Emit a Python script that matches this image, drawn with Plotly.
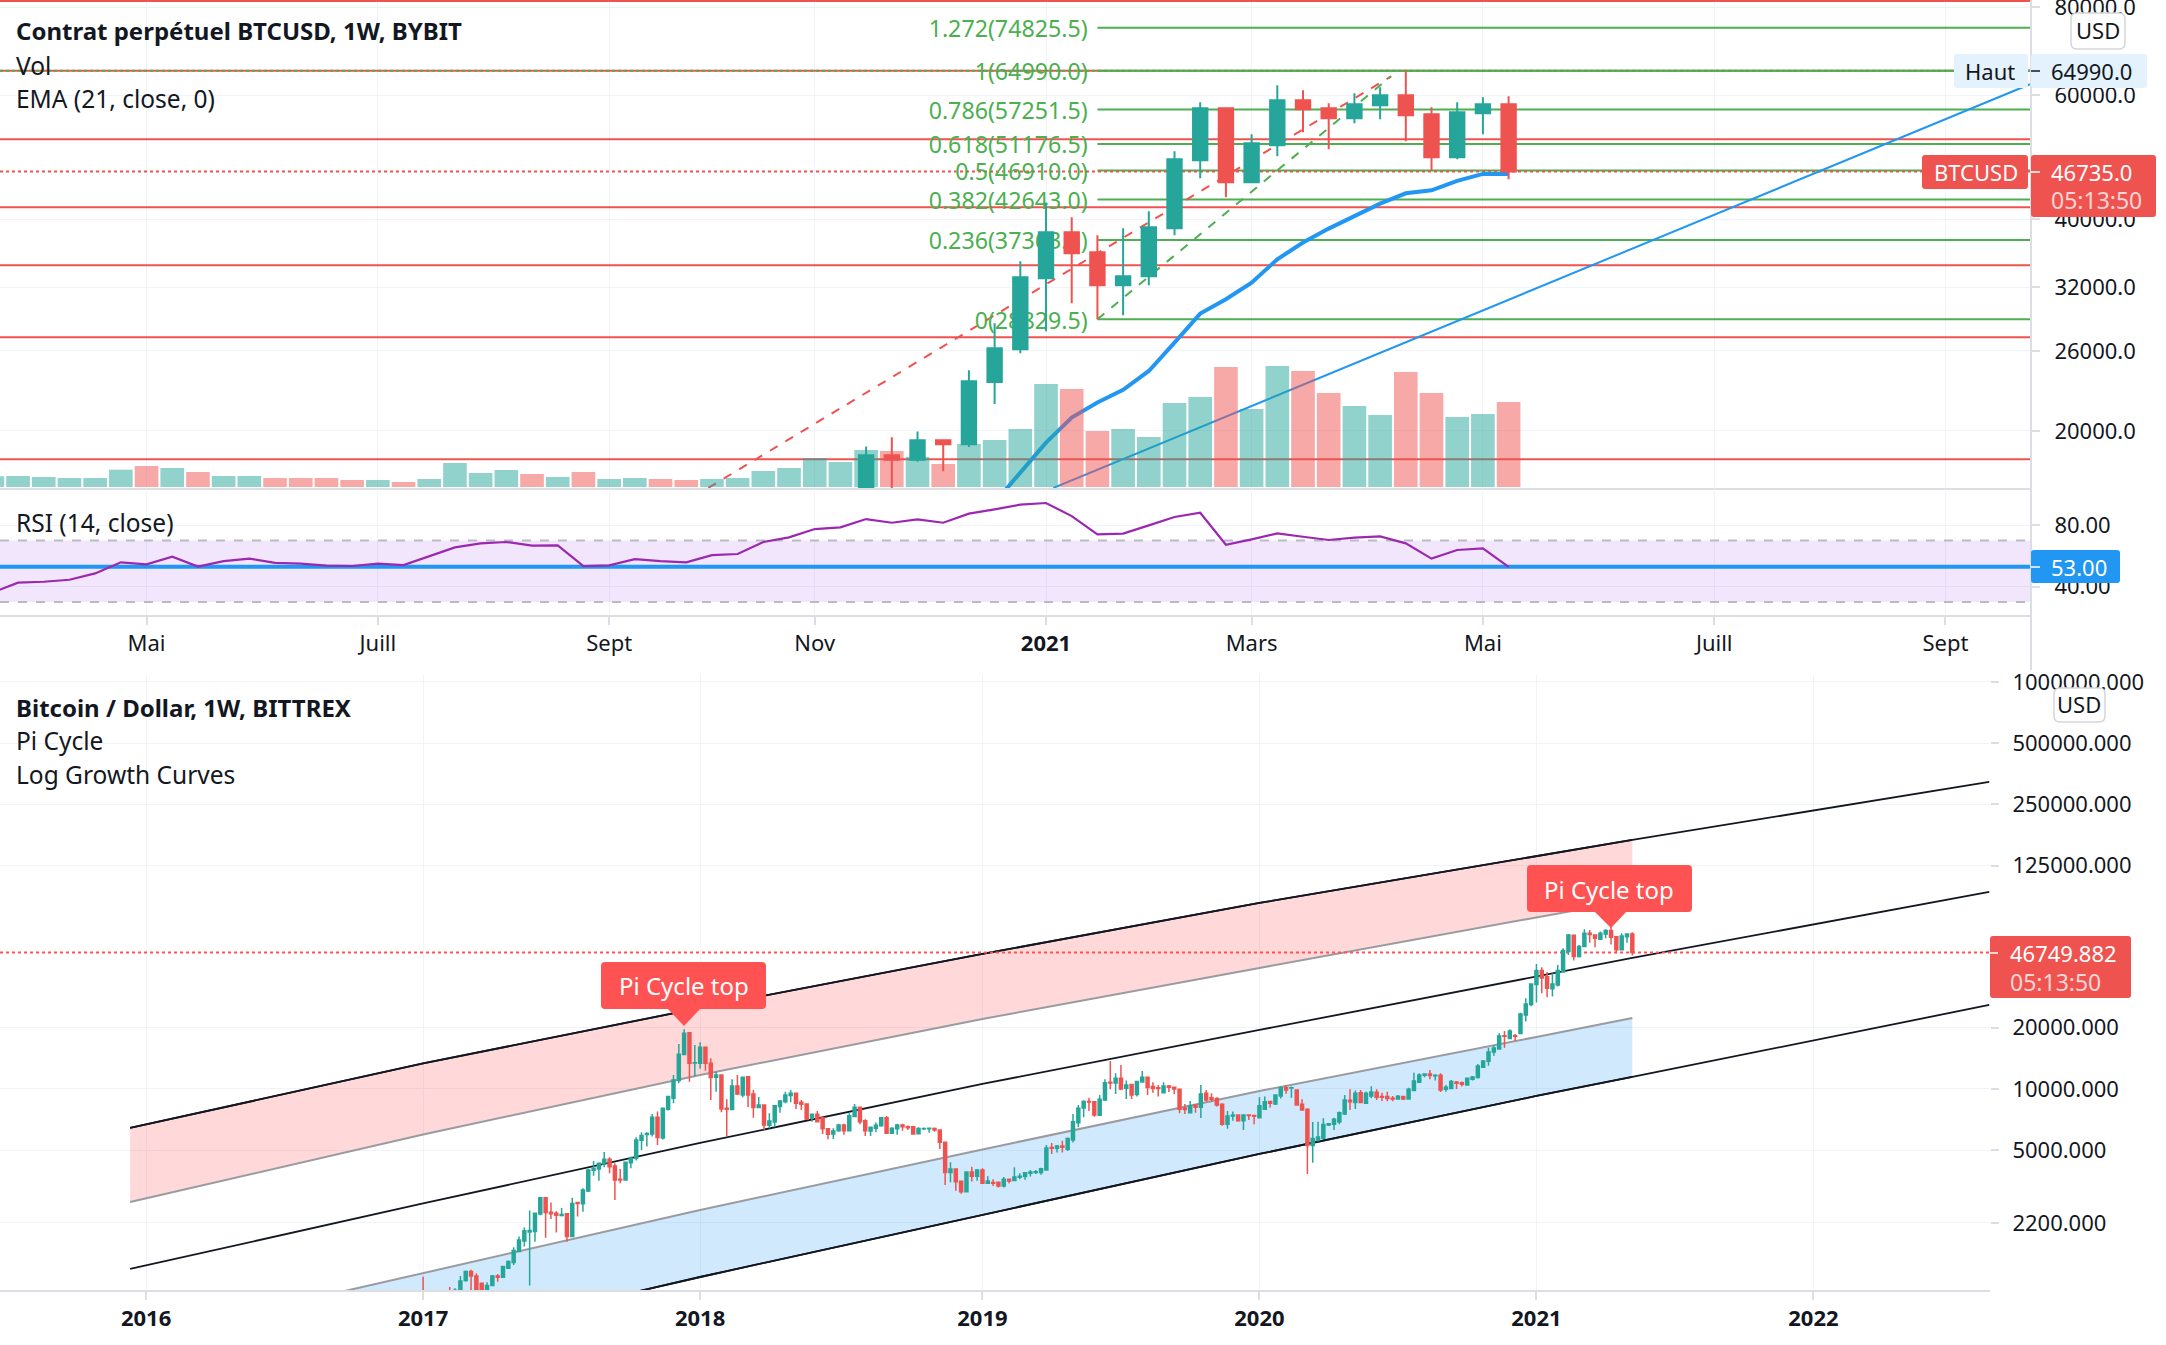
import math
import pandas as pd
import plotly.graph_objects as go

# ---------- top chart data (Bybit BTCUSD weekly) ----------
top_weeks = list(pd.date_range("2020-03-23", "2021-05-10", freq="7D"))
volume = [10.7,11,10,9,9,17.3,21,19,15,11,11,9,9,9,7,7,5,8,24,14,17,13,10,15,8,9,8,7,8,9,16,19,
          29,25,37,36,30,23,43,47,58,103,98,56,58,50,84,90,120,78,121,116,94,81,72,115,94,70,73,85]
volume_dir = list("gggggg" "rgrggrrrrg" "rggggrgrgg" "rrgggg" "gggrgrgggg" "rrggggrggr" "rggrrggr")
rsi = [36.1,42.6,43.2,44.5,48.6,55.8,54.5,59.5,53,56.6,58.2,55.4,54.9,53.6,53.4,54.9,54,59.5,65.5,68.1,
       69,66.6,66.8,53.4,53.8,57.9,56.6,55.8,60.5,61.2,69,72,77.4,78.5,83.9,81.5,83.7,81.5,87.4,90.2,
       93.2,94.3,85.8,73.9,74.4,79.8,85.2,88,67.2,70.7,74.6,72.4,70.3,71.8,72.6,68.1,58.2,63.8,64.9,52.8]

candle_weeks = list(pd.date_range("2020-11-16", "2021-05-10", freq="7D"))
top_open  = [16500,18473,18210,19405,19152,23484,26131,32969,38323,35900,32222,33185,38827,48503,57504,45137,50946,59029,57504,55650,58069,60000,56381,48984,56569,58260]
top_high  = [19010,19596,19963,19464,24396,28453,34855,42228,40247,37950,38827,41048,49953,58644,57689,52812,61997,60992,58452,60392,61592,64990,57689,58644,59612,59802]
top_low   = [16000,16200,18078,17531,18985,21853,25794,27721,30376,28830,29207,32222,37950,45727,42972,44987,49147,53155,50279,54748,55468,51617,46946,48667,52812,45582]
top_close = [18473,18210,19405,19152,23534,26220,33076,38323,35777,32222,33185,38950,48667,57504,45137,51275,59029,57312,55650,58260,60000,56201,48984,56755,58260,46735]

ema_weeks = list(pd.date_range("2020-12-21", "2021-05-10", freq="7D"))
ema21 = [15824,17490,19253,20900,21950,22880,24340,26705,29370,30780,32500,35080,37050,38785,40430,42090,43535,43968,45335,46387,46387]

red_levels = [81700,64990,51955,41594,34398,27177,18233]
fib_ratio  = ["1.272","1","0.786","0.618","0.5","0.382","0.236","0"]
fib_price  = [74825.5,64990.0,57251.5,51176.5,46910.0,42643.0,37363.5,28829.5]
last_price = 46735.0

trend_blue_x = ["2021-01-06","2021-09-29"]
trend_blue_y = [16600,62200]
trend_red_x  = ["2020-10-04","2021-04-08"]
trend_red_y  = [16600,63850]
trend_green_x = ["2021-01-18","2021-04-08"]
trend_green_y = [28829.5,63850]

top_tick_dates = ["2020-05-04","2020-07-06","2020-09-07","2020-11-02","2021-01-04","2021-03-01","2021-05-03","2021-07-05","2021-09-06"]
top_tick_text  = ["Mai","Juill","Sept","Nov","<b>2021</b>","Mars","Mai","Juill","Sept"]
price_ticks = [20000,26000,32000,40000,60000,80000]
price_tick_text = ["20000.0","26000.0","32000.0","40000.0","60000.0","80000.0"]
rsi_ticks = [40,80]
rsi_tick_text = ["40.00","80.00"]
rsi_marker = 53.0

# ---------- bottom chart data (Bittrex BTC/USD weekly) ----------
btc_weeks = list(pd.date_range("2017-01-02", "2021-05-10", freq="7D"))
btc_open = [1000,905,920,995,990,1005,985,1030,1145,1268,
 1206,1110,1010,1082,1206,1188,1316,1403,1590,1793,
 1985,1995,2430,2925,2480,2450,2390,2440,1883,2765,
 2730,3150,3985,4040,4280,4510,4180,3600,3570,4340,
 4570,5590,5970,6000,7260,5740,7950,9000,11000,14760,
 18900,13400,13380,16030,13380,11420,11720,8040,7920,10340,
 9340,11490,9450,8100,8340,6630,6880,8190,8660,9280,
 9520,8600,8440,7170,7510,7230,6370,6010,6240,6650,
 6240,7320,8130,6980,6210,6410,6590,7220,6060,6370,
 6650,6530,6530,6030,6370,6370,6390,6290,5470,3890,
 4040,3520,3130,3910,3730,4000,3440,3470,3480,3340,
 3600,3550,3680,3710,3850,3890,3890,4000,5150,5110,
 5250,5050,5620,6820,8070,8680,8650,7420,8830,10780,
 10700,11300,10080,10510,9380,10830,11410,10270,10150,9590,
 10340,10200,9960,8040,7650,8340,8130,9520,9060,8970,
 8410,6700,7370,7450,6980,7450,7400,7230,7950,8680,
 8440,9240,10150,10100,9890,8410,7950,5270,5620,5730,
 6650,6700,6890,7540,8790,8580,9590,8500,9240,9630,
 9170,9170,9000,8930,9170,8930,9820,10780,11680,11840,
 11600,11680,9960,10040,10830,10740,10470,11160,11370,12780,
 13690,15200,15700,18260,17700,18260,18700,23070,25990,32570,
 38130,35600,31100,32450,37570,47300,56870,44700,50060,58170,
 57090,54330,57730,59950,55970,48240,55970,57730]
btc_high = [1197,1000,1010,1025,1020,1065,1050,1206,1282,1293,
 1243,1110,1122,1220,1234,1352,1436,1669,1883,2085,
 2530,2450,2945,2945,2765,2510,2600,2440,2925,2790,
 3250,4050,4430,4310,4900,4620,4310,4040,4400,4660,
 5790,6130,6130,7540,7740,8100,9240,11720,16640,19650,
 18900,16460,16950,16030,14150,12160,11720,8900,11160,11720,
 11410,11590,9890,9130,8410,7590,8340,8830,9700,9890,
 9590,8830,8500,7570,7800,7310,6370,6410,6740,6740,
 7590,8440,8190,7090,6530,6840,7260,7370,6480,6740,
 6740,6620,6600,6480,6460,6460,6460,6340,5470,4370,
 4080,3550,3920,4150,4040,4080,3730,3600,3490,3690,
 3600,4120,3850,3910,4000,4000,4100,5310,5420,5310,
 5560,5770,7540,8340,8790,9060,8680,9340,11160,13730,
 11940,13130,11000,10510,10950,12260,11410,10780,10470,10780,
 10470,10270,9960,8440,8730,8340,10470,9890,9520,9100,
 8500,7800,7740,7510,7510,7510,7450,9100,9170,8730,
 9410,10270,10470,10270,9890,8900,8040,6880,6910,7180,
 6790,7230,7740,9340,9960,9830,9890,9700,10300,9960,
 9590,9700,9240,9340,9240,10150,12010,11940,11940,12400,
 11810,11940,10470,11070,10950,10870,11340,11570,13260,13880,
 15920,16380,18770,19250,19650,18640,23700,27870,32820,41130,
 39610,37570,37000,40660,49110,57730,56870,51000,60860,60400,
 57500,59300,60860,64900,56400,58170,58170,58840]
btc_low = [750,880,900,960,900,960,970,1000,1130,1030,
 1000,990,990,1082,1130,1184,1316,1367,1590,1681,
 1082,1778,2400,1860,2300,1970,2360,1778,1883,2360,
 2490,3120,3750,3540,4120,3850,2850,3440,3570,4080,
 4450,5020,5210,5840,5310,5650,7830,8500,10680,14760,
 10860,11500,12550,12300,8830,9700,7680,5880,7920,9340,
 9100,8130,7230,8040,6290,6410,6480,7650,8500,8600,
 7980,7880,7040,6900,6900,6000,5660,5680,6170,5950,
 6240,7320,6700,5880,5880,6130,6530,6010,6010,5950,
 6240,6290,5950,6010,6290,6100,6170,5070,3370,3480,
 3160,3060,3130,3510,3540,3420,3420,3340,3280,3280,
 3440,3550,3600,3580,3710,3820,3790,3970,4790,4870,
 4870,4950,5450,6480,7260,7800,7310,7420,8730,9960,
 9450,9890,8930,8930,9170,10740,9340,9590,9170,9520,
 9660,9410,7590,7540,7590,7650,7200,8680,8620,8190,
 6590,6370,6980,6900,6290,7040,6700,7200,7880,8100,
 8340,8970,9480,9060,8280,7830,3820,4340,5510,5710,
 6570,6290,6700,7450,7880,7980,8500,8440,9000,8830,
 8730,8700,8700,8860,8830,8930,9820,10740,11410,11160,
 11000,9660,9700,9960,10000,10270,10380,11000,11240,12680,
 13000,14570,15700,15950,17700,17200,18640,21420,25480,26570,
 29510,28220,28430,31820,37570,45500,42770,44230,50060,52330,
 49680,53920,54930,51200,46430,47840,52330,45200]
btc_close = [905,920,995,990,950,985,1025,1140,1268,1206,
 1030,1010,1082,1206,1188,1341,1419,1610,1813,2010,
 2015,2450,2925,2470,2440,2400,2420,1883,2740,2740,
 3190,4000,4080,4310,4510,4150,3570,3570,4360,4570,
 5620,5900,6040,7260,5780,8040,9170,11070,14800,18770,
 13380,13450,16030,13380,11370,11720,7980,7950,10340,9450,
 11410,9340,8100,8340,6650,6960,8280,8730,9340,9520,
 8500,8400,7120,7510,6900,6370,5990,6220,6650,6240,
 7390,8130,6900,6240,6480,6640,7220,6060,6410,6650,
 6530,6440,6010,6390,6390,6410,6290,5470,3890,4040,
 3500,3130,3910,3730,4000,3440,3530,3440,3340,3600,
 3530,3690,3730,3880,3910,3920,4060,5130,5110,5250,
 5170,5710,6910,8040,8680,8620,7450,8900,10740,10700,
 11300,10000,10470,9340,10870,11410,10170,10040,10040,10340,
 10200,10000,7950,7920,8280,8130,9450,8830,8900,8340,
 6700,7370,7450,6980,7450,7400,7340,8280,8650,8500,
 9340,10150,9890,10150,8340,7880,5270,5710,5800,6690,
 6750,7090,7650,8830,8650,9520,8580,9520,9660,9100,
 9100,8970,8930,9200,8930,9960,10950,11720,11840,11640,
 11680,9890,10200,10870,10680,10560,11300,11450,12960,13730,
 15200,15880,18200,18150,19250,18150,23360,26150,32820,38130,
 35100,31230,32820,38130,47840,57090,44700,50060,58170,57300,
 54930,58170,59950,55550,48240,56400,57730,46750]

curve_dates = ["2015-12-14","2017-01-02","2018-01-01","2019-01-07","2020-01-06","2021-01-04","2021-05-10","2022-08-22"]
curve_top    = [6433,13344,25000,46050,82000,139550,167200,322300]
curve_upper  = [2785,5977,11716,22075,39310,69980,84830]
curve_mid    = [1305,2738,5429,10582,19492,35905,44010,92860]
curve_lower  = [585,1247,2544,5044,9776,18008,22326]
curve_bottom = [262,578,1192,2404,4794,9239,11454,25860]
btc_last = 46749.882

btc_tick_dates = ["2016-01-04","2017-01-02","2018-01-01","2019-01-07","2020-01-06","2021-01-04","2022-01-03"]
btc_tick_text  = ["<b>2016</b>","<b>2017</b>","<b>2018</b>","<b>2019</b>","<b>2020</b>","<b>2021</b>","<b>2022</b>"]
btc_price_ticks = [2200,5000,10000,20000,125000,250000,500000,1000000]
btc_price_text  = ["2200.000","5000.000","10000.000","20000.000","125000.000","250000.000","500000.000","1000000.000"]

# ---------- style ----------
W, H = 2166, 1345
FONT = "Noto Sans"
INK = "#131722"
UP, DOWN = "#26a69a", "#ef5350"
GRID = "#f0f3fa"
BORDER = "#dcdee3"
GREEN = "#4caf50"
BLUE = "#2196f3"
TOP_X0, TOP_X1 = "2020-03-25 02:00", "2021-09-29 07:00"
LOW_X0, LOW_X1 = "2015-06-26", "2022-08-23"
TOP_RIGHT, LOW_RIGHT = 2031, 1990
FIB_LABEL_X = "2021-01-15 08:00"
FIB_LABEL_DROP = 0.9886   # nudges the label just below its level line

def px(x): return x / W
def py(y): return 1 - y / H

fig = go.Figure()
full = [TOP_X0, TOP_X1]

def line(x, y, color, width, dash="solid", xa="x", ya="y"):
    fig.add_trace(go.Scatter(x=x, y=y, mode="lines", xaxis=xa, yaxis=ya,
                             line=dict(color=color, width=width, dash=dash), hoverinfo="skip"))

# -- price pane, base layer
for lvl in red_levels:
    line(full, [lvl, lvl], DOWN, 2)
for p in fib_price:
    line(["2021-01-18", TOP_X1], [p, p], GREEN, 2)
line(full, [64990, 64990], GREEN, 2, "dot")
line(trend_red_x, trend_red_y, DOWN, 2, "dash")
line(trend_green_x, trend_green_y, GREEN, 2, "dash")
line(full, [last_price, last_price], DOWN, 2, "dot")
line(trend_blue_x, trend_blue_y, BLUE, 2)
line(ema_weeks, ema21, BLUE, 4)
fig.add_trace(go.Scatter(
    x=[FIB_LABEL_X] * len(fib_price), y=[p * FIB_LABEL_DROP for p in fib_price], mode="text", xaxis="x", yaxis="y",
    text=[f"{r}({p:.1f})" for r, p in zip(fib_ratio, fib_price)],
    textposition="middle left", textfont=dict(family=FONT, size=23.2, color=GREEN), hoverinfo="skip"))

# -- volume overlay
fig.add_trace(go.Bar(
    x=top_weeks, y=volume, xaxis="x", yaxis="y2", hoverinfo="skip", width=7 * 86400000 * 0.92,
    marker=dict(color=["rgba(38,166,154,0.5)" if d == "g" else "rgba(239,83,80,0.5)" for d in volume_dir],
                line=dict(width=0))))

# -- candles overlay
def candles(x, o, h, l, c, xa, ya, lw):
    fig.add_trace(go.Candlestick(
        x=x, open=o, high=h, low=l, close=c, xaxis=xa, yaxis=ya, whiskerwidth=0, hoverinfo="skip",
        increasing=dict(line=dict(color=UP, width=lw), fillcolor=UP),
        decreasing=dict(line=dict(color=DOWN, width=lw), fillcolor=DOWN)))

candles(candle_weeks, top_open, top_high, top_low, top_close, "x", "y3", 2)

# -- RSI pane
fig.add_trace(go.Scatter(x=full, y=[70, 70], mode="lines", xaxis="x2", yaxis="y4", hoverinfo="skip",
                         line=dict(color="#b9bbc2", width=2, dash="dash")))
fig.add_trace(go.Scatter(x=full, y=[30, 30], mode="lines", xaxis="x2", yaxis="y4", hoverinfo="skip",
                         fill="tonexty", fillcolor="rgba(150,50,240,0.12)",
                         line=dict(color="#b9bbc2", width=2, dash="dash")))
line(full, [rsi_marker, rsi_marker], BLUE, 4, xa="x2", ya="y4")
line(top_weeks, rsi, "#9c27b0", 2.2, xa="x2", ya="y4")

# -- lower pane: growth curves
def curve(x, y, color, width, fill=None):
    fig.add_trace(go.Scatter(x=x, y=y, mode="lines", xaxis="x3", yaxis="y5", hoverinfo="skip",
                             line=dict(color=color, width=width),
                             fill="tonexty" if fill else None, fillcolor=fill))

band_pink = "rgba(255,82,82,0.22)"
band_blue = "rgba(33,150,243,0.21)"
gray_curve = "#9a9ba0"
curve(curve_dates[:7], curve_top[:7], INK, 1.8)
curve(curve_dates[:7], curve_upper, gray_curve, 2, band_pink)
curve(curve_dates[:7], curve_lower, gray_curve, 2)
curve(curve_dates[:7], curve_bottom[:7], INK, 1.8, band_blue)
curve(curve_dates, curve_top, INK, 1.8)
curve(curve_dates, curve_mid, INK, 1.8)
curve(curve_dates, curve_bottom, INK, 1.8)
line([LOW_X0, LOW_X1], [btc_last, btc_last], "#ff5252", 2, "dot", "x3", "y5")
candles(btc_weeks, btc_open, btc_high, btc_low, btc_close, "x3", "y6", 1.5)

# ---------- decorative tags ----------
shapes, notes = [], []

def rrect(x0, y0, x1, y1, r, fill, border=None):
    X0, X1, Y0, Y1, dx, dy = px(x0), px(x1), py(y0), py(y1), r / W, r / H
    path = (f"M {X0+dx} {Y0} L {X1-dx} {Y0} Q {X1} {Y0} {X1} {Y0-dy} L {X1} {Y1+dy} Q {X1} {Y1} {X1-dx} {Y1} "
            f"L {X0+dx} {Y1} Q {X0} {Y1} {X0} {Y1+dy} L {X0} {Y0-dy} Q {X0} {Y0} {X0+dx} {Y0} Z")
    shapes.append(dict(type="path", path=path, xref="paper", yref="paper", fillcolor=fill,
                       line=dict(color=border or fill, width=1.5 if border else 0)))

def tri(x0, x1, ybase, xtip, ytip, fill):
    path = f"M {px(x0)} {py(ybase)} L {px(x1)} {py(ybase)} L {px(xtip)} {py(ytip)} Z"
    shapes.append(dict(type="path", path=path, xref="paper", yref="paper", fillcolor=fill, line=dict(width=0)))

def seg(x0, y0, x1, y1, color, width):
    shapes.append(dict(type="line", xref="paper", yref="paper", x0=px(x0), x1=px(x1), y0=py(y0), y1=py(y1),
                       line=dict(color=color, width=width)))

def note(x, y, text, size=22, color=INK, anchor="left"):
    notes.append(dict(xref="paper", yref="paper", x=px(x), y=py(y), text=text, showarrow=False,
                      xanchor=anchor, yanchor="middle", font=dict(family=FONT, size=size, color=color)))

# pane frame
seg(TOP_RIGHT, 0, TOP_RIGHT, 670, BORDER, 2)

# Haut tag
rrect(1954, 54, 2028, 88, 3, "#e3f2fd")
rrect(2031, 54, 2147, 88, 3, "#e3f2fd")
seg(2031, 71, 2040, 71, INK, 1.5)
note(1963, 71, "Haut")
note(2049, 71, "64990.0")
# last price tags
rrect(1922, 155, 2028, 189, 3, DOWN)
rrect(2031, 155, 2156, 217, 3, DOWN)
seg(2031, 172, 2040, 172, "#ffffff", 1.5)
note(1932, 172, "BTCUSD", color="#ffffff")
note(2049, 172, "46735.0", color="#ffffff")
note(2049, 200, "05:13:50", size=23, color="#fbd5d4")
# USD
rrect(2071, 13, 2125, 49, 6, "#ffffff", "#d4d6dc")
note(2098, 30, "USD", anchor="center")
rrect(2054, 688, 2105, 722, 6, "#ffffff", "#d4d6dc")
note(2079, 704, "USD", anchor="center")
# RSI value
rrect(2031, 550, 2120, 583, 3, BLUE)
seg(2031, 567, 2040, 567, "#ffffff", 1.5)
note(2049, 567, "53.00", color="#ffffff")
# lower price tags
rrect(1990, 936, 2131, 998, 3, DOWN)
seg(1990, 953, 1998, 953, "#ffffff", 1.5)
note(2008, 953, "46749.882", color="#ffffff")
note(2008, 982, "05:13:50", size=23, color="#fbd5d4")
# Pi Cycle labels
rrect(601, 962, 766, 1009, 4, "#ff5252")
tri(667, 701, 1008, 684, 1026, "#ff5252")
note(684, 985, "Pi Cycle top", size=24, color="#ffffff", anchor="center")
rrect(1527, 865, 1692, 912, 4, "#ff5252")
tri(1594, 1627, 911, 1611, 928, "#ff5252")
note(1609, 889, "Pi Cycle top", size=24, color="#ffffff", anchor="center")
# legends
note(14, 31, "<b>Contrat perpétuel BTCUSD, 1W, BYBIT</b>", size=24)
note(14, 65, "Vol", size=24.5)
note(14, 99, "EMA (21, close, 0)", size=24.5)
note(14, 522, "RSI (14, close)", size=24.5)
note(14, 707, "<b>Bitcoin / Dollar, 1W, BITTREX</b>", size=24)
note(14, 740, "Pi Cycle", size=24.5)
note(14, 774, "Log Growth Curves", size=24.5)

# ---------- axes ----------
tick_font = dict(family=FONT, size=22, color=INK)
TOP_XD = [0, px(TOP_RIGHT)]
LOW_XD = [0, px(LOW_RIGHT)]
PRICE_D = [py(488), 1]
RSI_D = [py(615), py(489)]
BTC_D = [py(1290), py(675)]

def xaxis(domain, rng, vals, text, anchor, labels=True):
    return dict(type="date", domain=domain, range=rng, anchor=anchor, tickmode="array", tickvals=vals, ticktext=text,
                showticklabels=labels, tickfont=tick_font, showgrid=True, gridcolor=GRID, gridwidth=1.4,
                ticks="outside" if labels else "", ticklen=8, tickcolor=BORDER, tickwidth=1.5,
                showline=True, linecolor=BORDER, linewidth=2, zeroline=False, rangeslider=dict(visible=False),
                fixedrange=True)

def yaxis(domain, rng, vals, text, anchor, kind="log", standoff=10):
    return dict(type=kind, domain=domain, range=rng, anchor=anchor, side="right", tickmode="array",
                tickvals=vals, ticktext=text, tickfont=tick_font, showgrid=True, gridcolor=GRID, gridwidth=1.4,
                ticks="outside", ticklen=8, tickcolor=BORDER, tickwidth=1.5, showline=False, zeroline=False,
                ticklabelstandoff=standoff, ticklabeloverflow="allow", fixedrange=True)

price_rng = [math.log10(16596), math.log10(81950)]
btc_rng = [math.log10(1029), math.log10(1080000)]

fig.update_layout(
    width=W, height=H, margin=dict(l=0, r=0, t=0, b=0, autoexpand=False),
    paper_bgcolor="#ffffff", plot_bgcolor="#ffffff", showlegend=False, hovermode=False, dragmode=False,
    boxgap=0.2, font=dict(family=FONT, color=INK), shapes=shapes, annotations=notes,
    xaxis=xaxis(TOP_XD, [TOP_X0, TOP_X1], top_tick_dates, top_tick_text, "y", labels=False),
    xaxis2=xaxis(TOP_XD, [TOP_X0, TOP_X1], top_tick_dates, top_tick_text, "y4"),
    xaxis3=xaxis(LOW_XD, [LOW_X0, LOW_X1], btc_tick_dates, btc_tick_text, "y5"),
    yaxis=yaxis(PRICE_D, price_rng, price_ticks, price_tick_text, "x"),
    yaxis2=dict(domain=PRICE_D, range=[-1, 487], overlaying="y", visible=False, anchor="x", fixedrange=True),
    yaxis3=dict(type="log", domain=PRICE_D, range=price_rng, overlaying="y", visible=False, anchor="x", fixedrange=True),
    yaxis4=yaxis(RSI_D, [21.6, 103.4], rsi_ticks, rsi_tick_text, "x2", kind="linear"),
    yaxis5=yaxis(BTC_D, btc_rng, btc_price_ticks, btc_price_text, "x3", standoff=9),
    yaxis6=dict(type="log", domain=BTC_D, range=btc_rng, overlaying="y5", visible=False, anchor="x3", fixedrange=True),
)

fig.write_html("out.html", config={"displayModeBar": False}, post_script="document.body.style.margin='0';")
